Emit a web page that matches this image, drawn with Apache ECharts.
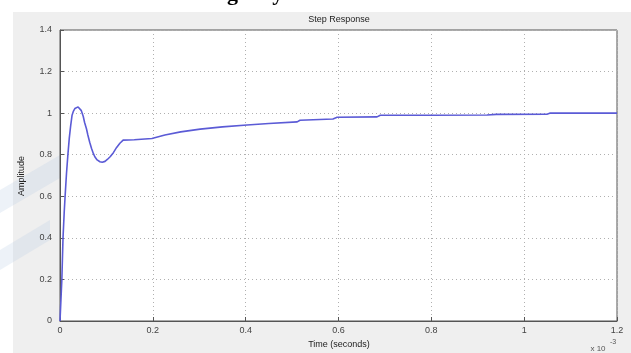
<!DOCTYPE html>
<html>
<head>
<meta charset="utf-8">
<script src="https://cdn.jsdelivr.net/npm/echarts@6/dist/echarts.min.js"></script>
<style>
  html, body { margin: 0; padding: 0; background: #ffffff; }
  #chart { width: 631px; height: 353px; }
</style>
</head>
<body>
<div id="chart"></div>
<script>
// Step response of the closed-loop system (time axis in units of 1e-3 s)
const timeMs = [0, 0.002, 0.004, 0.0065, 0.009, 0.011, 0.014, 0.017, 0.020, 0.023, 0.026, 0.029,
  0.032, 0.035, 0.039, 0.043, 0.046, 0.050, 0.053, 0.057, 0.060, 0.064, 0.068, 0.072, 0.075,
  0.080, 0.086, 0.091, 0.097, 0.102, 0.108, 0.115, 0.122, 0.129, 0.136, 0.160, 0.198, 0.226,
  0.260, 0.302, 0.350, 0.403, 0.450, 0.511, 0.517, 0.588, 0.597, 0.683, 0.690, 0.800, 0.920,
  0.940, 1.049, 1.055, 1.200];
const amplitude = [0, 0.10, 0.20, 0.40, 0.52, 0.60, 0.71, 0.80, 0.88, 0.94, 0.99, 1.01,
  1.022, 1.028, 1.03, 1.024, 1.012, 0.985, 0.955, 0.925, 0.895, 0.86, 0.83, 0.805, 0.79,
  0.775, 0.766, 0.764, 0.768, 0.777, 0.79, 0.81, 0.835, 0.855, 0.87, 0.872, 0.878, 0.895,
  0.91, 0.923, 0.934, 0.943, 0.95, 0.958, 0.966, 0.972, 0.98, 0.982, 0.99, 0.99, 0.991,
  0.994, 0.995, 1.0, 1.0];
const yTicks = [0, 0.2, 0.4, 0.6, 0.8, 1, 1.2, 1.4];
const xTicks = [0, 0.2, 0.4, 0.6, 0.8, 1, 1.2];

const points = timeMs.map((t, i) => [t, amplitude[i]]);
const labelFont = 'Liberation Sans, Arial, sans-serif';

const chart = echarts.init(document.getElementById('chart'), null, { renderer: 'canvas' });
chart.setOption({
  backgroundColor: '#ffffff',
  animation: false,
  graphic: [
    { type: 'rect', z: -10, shape: { x: 13, y: 12, width: 618, height: 341 }, style: { fill: '#efefef' } },
    { type: 'polygon', z: -9, shape: { points: [[0, 190], [60, 155], [60, 178], [0, 213]] }, style: { fill: 'rgba(185,205,228,0.25)' } },
    { type: 'polygon', z: -9, shape: { points: [[0, 250], [50, 220], [50, 240], [0, 270]] }, style: { fill: 'rgba(185,205,228,0.25)' } },
    { type: 'text', z: 10, left: 'center', top: -17,
      style: { text: 'Fig 6 System Bode Plot', font: 'bold 22px "Liberation Serif", serif', fill: '#000' } },
    { type: 'text', z: 10, x: 339, y: 20,
      style: { text: 'Step Response', font: '9px ' + labelFont, fill: '#222', align: 'center', verticalAlign: 'middle' } },
    { type: 'text', z: 10, x: 339, y: 345,
      style: { text: 'Time (seconds)', font: '9px ' + labelFont, fill: '#222', align: 'center', verticalAlign: 'middle' } },
    { type: 'text', z: 10, x: 22, y: 176, rotation: Math.PI / 2,
      style: { text: 'Amplitude', font: '9px ' + labelFont, fill: '#222', align: 'center', verticalAlign: 'middle' } },
    { type: 'text', z: 10, x: 598, y: 349,
      style: { text: 'x 10', font: '8px ' + labelFont, fill: '#555', align: 'center', verticalAlign: 'middle' } },
    { type: 'text', z: 10, x: 613, y: 342,
      style: { text: '-3', font: '7px ' + labelFont, fill: '#555', align: 'center', verticalAlign: 'middle' } }
  ],
  grid: { left: 60, right: 14, top: 30, bottom: 32, show: true, backgroundColor: '#ffffff', borderColor: '#555', borderWidth: 1 },
  xAxis: {
    type: 'value', min: xTicks[0], max: xTicks[xTicks.length - 1], interval: 0.2,
    axisLine: { show: true, lineStyle: { color: '#555' } },
    axisTick: { show: true, inside: true, length: 4, lineStyle: { color: '#555' } },
    axisLabel: { margin: 5, fontSize: 9, fontFamily: labelFont, color: '#444',
      formatter: v => String(+v.toFixed(1)) },
    splitLine: { show: true, lineStyle: { color: '#b0b0b0', type: [1, 3], width: 1 } }
  },
  yAxis: {
    type: 'value', min: yTicks[0], max: yTicks[yTicks.length - 1], interval: 0.2,
    axisLine: { show: true, lineStyle: { color: '#555' } },
    axisTick: { show: true, inside: true, length: 4, lineStyle: { color: '#555' } },
    axisLabel: { margin: 8, fontSize: 9, fontFamily: labelFont, color: '#444',
      formatter: v => String(+v.toFixed(1)) },
    splitLine: { show: true, lineStyle: { color: '#b0b0b0', type: [1, 3], width: 1 } }
  },
  series: [{
    type: 'line',
    data: points,
    showSymbol: false,
    smooth: false,
    lineStyle: { color: '#5b5bd6', width: 1.6 }
  }]
});
</script>
</body>
</html>
